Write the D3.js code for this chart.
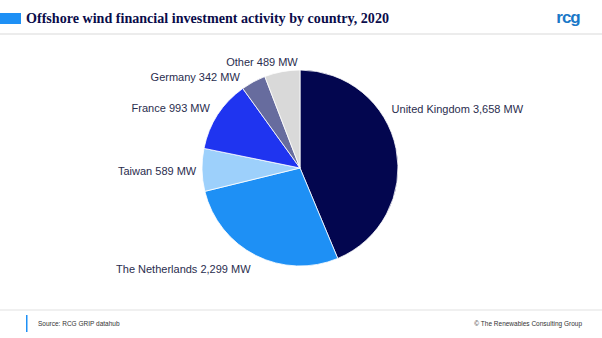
<!DOCTYPE html>
<html>
<head>
<meta charset="utf-8">
<script src="https://cdn.jsdelivr.net/npm/d3@7"></script>
<style>
body { margin: 0; background: #fff; }
svg { display: block; }
</style>
</head>
<body>
<div id="xart"></div>
<script>
// dades
const paisos = ['United Kingdom', 'The Netherlands', 'Taiwan', 'France', 'Germany', 'Other'];
const mw = [3658, 2299, 589, 993, 342, 489];
const colors = ['#03064f', '#1e90f5', '#9dd0fb', '#1f34f0', '#676c9e', '#d9d9d9'];

const Amplada = 602, Alçada = 338;
const cx = 300, cy = 168, radi = 98;

const svg = d3.select('#xart').append('svg')
	.attr('width', Amplada)
	.attr('height', Alçada);

// capçalera
svg.append('rect').attr('x', 0).attr('y', 13).attr('width', 21).attr('height', 11).attr('fill', '#1e90f5');
svg.append('text')
	.attr('x', 26).attr('y', 23)
	.attr('font-family', 'Liberation Serif, DejaVu Serif, serif')
	.attr('font-weight', 'bold')
	.attr('font-size', 15)
	.attr('fill', '#0a0c4a')
	.attr('textLength', 363)
	.attr('lengthAdjust', 'spacingAndGlyphs')
	.text('Offshore wind financial investment activity by country, 2020');
svg.append('text')
	.attr('x', 568).attr('y', 23)
	.attr('text-anchor', 'middle')
	.attr('font-family', 'Liberation Sans, Arial, sans-serif')
	.attr('font-weight', 'bold')
	.attr('font-size', 17)
	.attr('fill', '#1a78c8')
	.attr('letter-spacing', -1)
	.text('rcg');
svg.append('rect').attr('x', 0).attr('y', 33).attr('width', Amplada).attr('height', 2).attr('fill', '#ececec');

// peu
svg.append('rect').attr('x', 0).attr('y', 309).attr('width', Amplada).attr('height', 2).attr('fill', '#f0f0f0');
svg.append('rect').attr('x', 26).attr('y', 315).attr('width', 1.5).attr('height', 17).attr('fill', '#1e90f5');
svg.append('text')
	.attr('x', 38).attr('y', 326)
	.attr('font-family', 'Liberation Sans, Arial, sans-serif')
	.attr('font-size', 6.5)
	.attr('fill', '#333')
	.text('Source: RCG GRIP datahub');
svg.append('text')
	.attr('x', 582).attr('y', 326)
	.attr('text-anchor', 'end')
	.attr('font-family', 'Liberation Sans, Arial, sans-serif')
	.attr('font-size', 6.5)
	.attr('fill', '#333')
	.text('\u00A9 The Renewables  Consulting Group');

// pastís
const dades = paisos.map((p, i) => ({pais: p, mw: mw[i], color: colors[i]}));
const pie = d3.pie().sort(null).value(d => d.mw);
const arcs = pie(dades);
const arc = d3.arc().innerRadius(0).outerRadius(radi);
const arcEtq = d3.arc().innerRadius(radi * 1.12).outerRadius(radi * 1.12);

const llenç = svg.append('g').attr('transform', `translate(${cx},${cy})`);

llenç.selectAll('path')
	.data(arcs)
	.enter()
	.append('path')
		.attr('d', arc)
		.attr('fill', d => d.data.color)
		.attr('stroke', '#fff')
		.attr('stroke-width', 0.8);

// petits ajustos de les etiquetes (dx, dy, ancoratge)
const ajust = {
	'United Kingdom': [-16, -33, 'start'],
	'The Netherlands': [0, 7, 'end'],
	'Taiwan': [6, 5, 'end'],
	'France': [2, 4, 'end'],
	'Germany': [-8, 10, 'end'],
	'Other': [-18, 6, 'middle']
};

llenç.selectAll('text')
	.data(arcs)
	.enter()
	.append('text')
		.attr('x', d => arcEtq.centroid(d)[0] + ajust[d.data.pais][0])
		.attr('y', d => arcEtq.centroid(d)[1] + ajust[d.data.pais][1])
		.attr('text-anchor', d => ajust[d.data.pais][2])
		.attr('font-family', 'Liberation Sans, Arial, sans-serif')
		.attr('font-size', 11)
		.attr('fill', '#2a2d4e')
		.text(d => `${d.data.pais} ${d3.format(',')(d.data.mw)} MW`);
</script>
</body>
</html>
